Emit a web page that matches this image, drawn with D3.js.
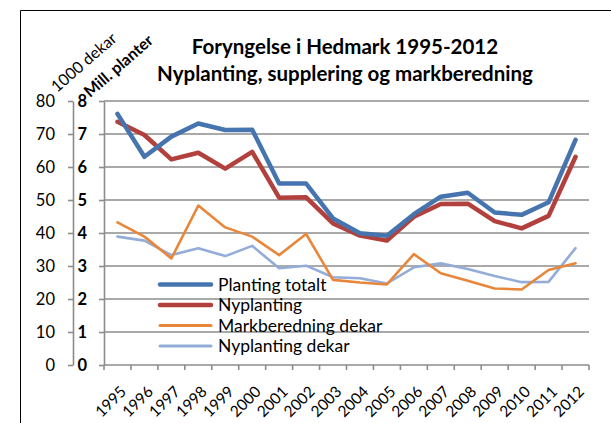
<!DOCTYPE html>
<html><head><meta charset="utf-8">
<script src="https://cdn.jsdelivr.net/npm/d3@7"></script>
<style>
html,body{margin:0;padding:0;background:#fff;}
svg{display:block;font-family:Lato,"Open Sans",sans-serif;}
</style></head>
<body>
<svg id="c" width="611" height="423"></svg>
<script>
const years = ["1995","1996","1997","1998","1999","2000","2001","2002","2003","2004","2005","2006","2007","2008","2009","2010","2011","2012"];
// Mill. planter (right/secondary scale 0-8)
const plantingTotalt = [7.61,6.31,6.92,7.32,7.12,7.13,5.50,5.50,4.44,3.99,3.92,4.57,5.10,5.22,4.62,4.55,4.93,6.82];
const nyplanting     = [7.37,6.97,6.23,6.43,5.95,6.46,5.07,5.08,4.29,3.92,3.77,4.49,4.88,4.89,4.36,4.14,4.52,6.31];
// 1000 dekar (left/primary scale 0-80)
const markberedning  = [43.2,38.9,32.3,48.3,41.7,38.9,33.3,39.7,25.8,25.0,24.4,33.6,27.8,25.5,23.2,22.9,28.8,30.8];
const nyplantingDekar= [38.9,37.7,33.3,35.4,33.0,36.1,29.3,30.1,26.6,26.3,24.7,29.6,30.8,29.1,27.0,25.1,25.2,35.4];
const leftTicks = [0,10,20,30,40,50,60,70,80];
const rightTicks = [0,1,2,3,4,5,6,7,8];
const seriesNames = ["Planting totalt","Nyplanting","Markberedning dekar","Nyplanting dekar"];
const titleLines = ["Foryngelse i Hedmark 1995-2012","Nyplanting, supplering og markberedning"];

const svg = d3.select("#c");
const x = d3.scaleBand().domain(years).range([104,589]);
const yL = d3.scaleLinear().domain([0,80]).range([365,101]);
const yR = d3.scaleLinear().domain([0,8]).range([365,101]);
const cx = d => x(d) + x.bandwidth()/2;

// outer border (left + top)
svg.append("path").attr("d","M20.5,423 L20.5,10.5 L611,10.5").attr("fill","none").attr("stroke","#000").attr("stroke-width",1);

// gridlines
svg.append("g").selectAll("line").data(leftTicks.slice(1)).join("line")
  .attr("x1",104).attr("x2",589).attr("y1",d=>yL(d)).attr("y2",d=>yL(d))
  .attr("stroke","#8c8c8c").attr("stroke-width",1.6);

// left axis (1000 dekar)
const gL = svg.append("g").attr("transform","translate(73,0)")
  .call(d3.axisLeft(yL).tickValues(leftTicks).tickSizeInner(5).tickSizeOuter(0).tickPadding(13));
gL.select(".domain").attr("stroke","#8c8c8c").attr("stroke-width",1.6);
gL.selectAll(".tick line").attr("stroke","#8c8c8c").attr("stroke-width",1.6);
gL.selectAll("text").attr("font-size",16.5).attr("fill","#000").attr("font-family","Lato");

// right (secondary) axis (Mill. planter)
const gR = svg.append("g").attr("transform","translate(104,0)")
  .call(d3.axisLeft(yR).tickValues(rightTicks).tickSizeInner(5).tickSizeOuter(0).tickPadding(12));
gR.select(".domain").attr("stroke","#8c8c8c").attr("stroke-width",1.6);
gR.selectAll(".tick line").attr("stroke","#8c8c8c").attr("stroke-width",1.6);
gR.selectAll("text").attr("font-size",16.5).attr("font-weight","bold").attr("fill","#000").attr("font-family","Lato");

// x axis
const gX = svg.append("g").attr("transform","translate(0,365)");
gX.append("line").attr("x1",104).attr("x2",589).attr("stroke","#8c8c8c").attr("stroke-width",1.6);
const bounds = years.map(d=>x(d)).concat([x.range()[1]]);
gX.selectAll("line.t").data(bounds).join("line").attr("class","t")
  .attr("x1",d=>d).attr("x2",d=>d).attr("y1",0).attr("y2",5)
  .attr("stroke","#8c8c8c").attr("stroke-width",1.6);
gX.selectAll("text").data(years).join("text")
  .attr("transform",d=>`translate(${cx(d)+2},${20}) rotate(-45)`)
  .attr("text-anchor","end").attr("dy","0.7em")
  .attr("font-size",15.5).attr("fill","#000").text(d=>d);

// lines
const lineR = d3.line().x((d,i)=>cx(years[i])).y(d=>yR(d));
const lineL = d3.line().x((d,i)=>cx(years[i])).y(d=>yL(d));
const colors = ["#4674ae","#b2403d","#e8873a","#93acd8"];
const widths = [4.5,4.5,2.6,2.6];
svg.append("path").datum(nyplantingDekar).attr("d",lineL).attr("fill","none").attr("stroke",colors[3]).attr("stroke-width",widths[3]).attr("stroke-linejoin","round").attr("stroke-linecap","round");
svg.append("path").datum(markberedning).attr("d",lineL).attr("fill","none").attr("stroke",colors[2]).attr("stroke-width",widths[2]).attr("stroke-linejoin","round").attr("stroke-linecap","round");
svg.append("path").datum(nyplanting).attr("d",lineR).attr("fill","none").attr("stroke",colors[1]).attr("stroke-width",widths[1]).attr("stroke-linejoin","round").attr("stroke-linecap","round");
svg.append("path").datum(plantingTotalt).attr("d",lineR).attr("fill","none").attr("stroke",colors[0]).attr("stroke-width",widths[0]).attr("stroke-linejoin","round").attr("stroke-linecap","round");

// legend
const lg = svg.append("g");
seriesNames.forEach((n,i)=>{
  const yy = 284.5 + i*20.5;
  lg.append("line").attr("x1",160).attr("x2",211).attr("y1",yy).attr("y2",yy)
    .attr("stroke",colors[i]).attr("stroke-width",i<2?4.5:3).attr("stroke-linecap","round");
  lg.append("text").attr("x",218).attr("y",yy).attr("dy","0.35em").attr("font-size",17.5).attr("fill","#000").text(n);
});

// title
svg.append("text").attr("x",345).attr("y",54).attr("text-anchor","middle").attr("font-size",20.5).attr("font-weight","bold").text(titleLines[0]);
svg.append("text").attr("x",345).attr("y",81).attr("text-anchor","middle").attr("font-size",20.5).attr("font-weight","bold").text(titleLines[1]);

// rotated axis titles
svg.append("text").attr("transform","translate(57,93) rotate(-41)").attr("font-size",16).text("1000 dekar");
svg.append("text").attr("transform","translate(90,98) rotate(-41)").attr("font-size",16).attr("font-weight","bold").text("Mill. planter");
</script>
</body></html>
